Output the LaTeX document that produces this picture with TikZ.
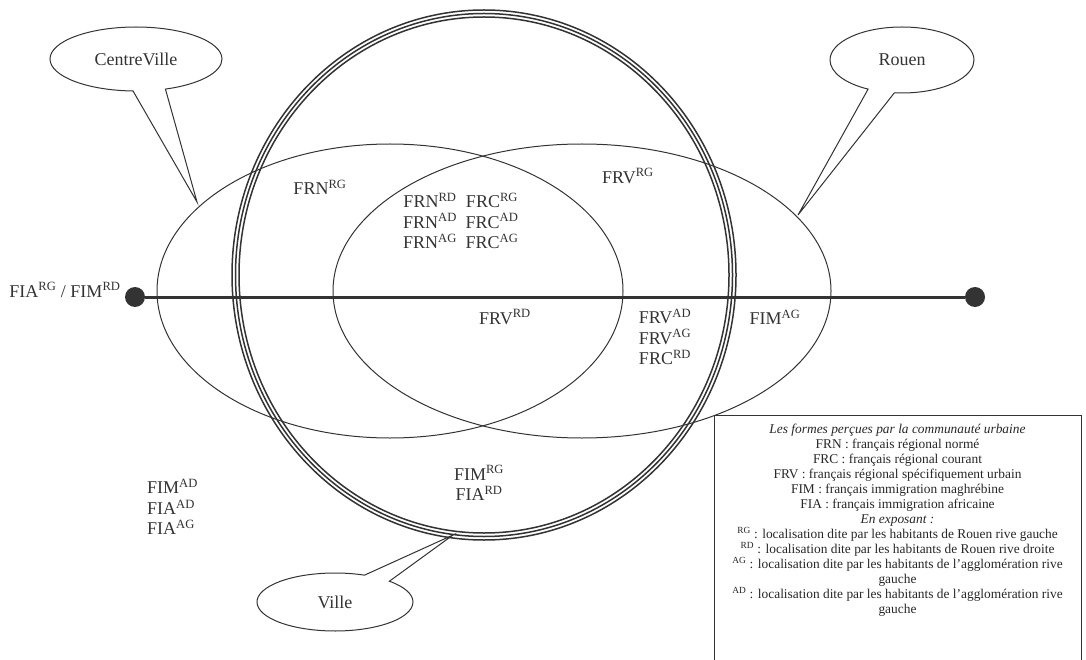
\documentclass[tikz,border=0pt]{standalone}
\usepackage{fontspec}
\setmainfont{Liberation Serif}
\usetikzlibrary{shapes.geometric,shapes.callouts}
\newcommand{\expo}[1]{\textsuperscript{#1}}
\begin{document}
\begin{tikzpicture}[x=1pt,y=-1pt,>=latex]
\tikzset{
  zone/.style={draw=black!80,line width=1pt},
  ring/.style={draw=black!80,line width=1.5pt},
  axis/.style={draw=black!80,line width=3pt},
  dot/.style={circle,fill=black!80,minimum size=20pt,inner sep=0pt},
  bubble/.style={ellipse callout,draw=black!80,fill=white,line width=1pt,callout pointer arc=22,
    text=black!80,font=\fontsize{18}{20}\selectfont,inner sep=0pt},
  lbl/.style={text=black!80,font=\fontsize{18}{20.5}\selectfont,align=center,inner sep=0pt},
  legend/.style={text=black!85,font=\fontsize{13.4}{15}\selectfont,align=center,inner sep=0pt}
}
\useasboundingbox (0,0) rectangle (1086,660);
% the two zones and the city ring
\draw[zone] (390,291) ellipse [x radius=233, y radius=147];
\draw[zone] (582,291) ellipse [x radius=249, y radius=147];
\foreach \rx/\ry in {252/265,248.5/261.5,245/258}
  \draw[ring] (484,275) ellipse [x radius=\rx, y radius=\ry];
% the river
\node[dot] (west) at (135,297) {};
\node[dot] (east) at (975,297) {};
\draw[axis] (west) -- (east);
% forms
\node[lbl] (fiarg) at (65,290) {FIA\expo{RG} / FIM\expo{RD}};
\node[lbl] (frnrg) at (320,187) {FRN\expo{RG}};
\node[lbl] (frnrd) at (430,221) {FRN\expo{RD}\\FRN\expo{AD}\\FRN\expo{AG}};
\node[lbl] (frcrg) at (492,221) {FRC\expo{RG}\\FRC\expo{AD}\\FRC\expo{AG}};
\node[lbl] (frvrg) at (628,176) {FRV\expo{RG}};
\node[lbl] (frvrd) at (505,317) {FRV\expo{RD}};
\node[lbl] (frvad) at (665,337) {FRV\expo{AD}\\FRV\expo{AG}\\FRC\expo{RD}};
\node[lbl] (fimag) at (775,317) {FIM\expo{AG}};
\node[lbl] (fimrg) at (479,483) {FIM\expo{RG}\\FIA\expo{RD}};
\node[lbl,align=left,anchor=west] (fimad) at (147,507) {FIM\expo{AD}\\FIA\expo{AD}\\FIA\expo{AG}};
% callouts
\node[bubble,minimum width=172pt,minimum height=64pt,callout absolute pointer={(197,202)}] (centreville) at (136,59) {CentreVille};
\node[bubble,minimum width=144pt,minimum height=66pt,callout absolute pointer={(798,215)}] (rouen) at (902,60) {Rouen};
\node[bubble,minimum width=156pt,minimum height=58pt,callout absolute pointer={(453,535)}] (ville) at (335,602) {Ville};
% legend
\draw[draw=black!80,line width=1pt] (714,665) -- (714,415) -- (1081,415) -- (1081,665);
\node[legend,anchor=north] (key) at (897.5,424) {\textit{Les formes perçues par la communauté urbaine}\\
FRN : français régional normé\\
FRC : français régional courant\\
FRV : français régional spécifiquement urbain\\
FIM : français immigration maghrébine\\
FIA : français immigration africaine\\
\textit{En exposant :}\\
\expo{RG} : localisation dite par les habitants de Rouen rive gauche\\
\expo{RD} : localisation dite par les habitants de Rouen rive droite\\
\expo{AG} : localisation dite par les habitants de l’agglomération rive\\
gauche\\
\expo{AD} : localisation dite par les habitants de l’agglomération rive\\
gauche};
\end{tikzpicture}
\end{document}
